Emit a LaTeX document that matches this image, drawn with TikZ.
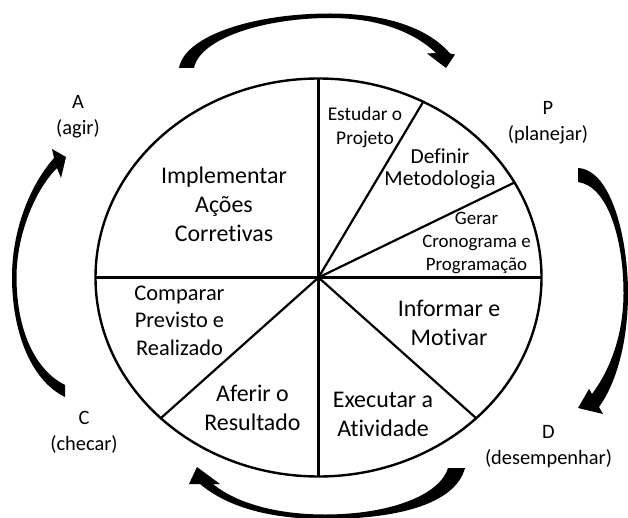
\documentclass[tikz,border=0pt]{standalone}
\usepackage{fontspec}
\setmainfont{Carlito}[Ligatures=NoCommon]
\begin{document}
\begin{tikzpicture}[x=1bp,y=-1bp,
  rim/.style={line width=2.4bp, line cap=round},
  spoke/.style={line width=2.2bp},
  lblbig/.style={font=\fontsize{24}{29}\selectfont, align=center, inner sep=0pt},
  lblmid/.style={font=\fontsize{22.5}{27.5}\selectfont, align=center, inner sep=0pt},
  lblsub/.style={font=\fontsize{21.5}{22}\selectfont, align=center, inner sep=0pt},
  lblsmall/.style={font=\fontsize{19.5}{24}\selectfont, align=center, inner sep=0pt},
  lbltiny/.style={font=\fontsize{19}{23}\selectfont, align=center, inner sep=0pt},
  phase/.style={font=\fontsize{20.5}{26}\selectfont, align=center, inner sep=0pt},
  cyc/.style={fill=black}]
\useasboundingbox (0,0) rectangle (628,518);

% wheel
\coordinate (o) at (318.5,277.5);
\draw[rim] (o) ellipse [x radius=223, y radius=199];
\coordinate (r90)  at (318.5,78.5);
\coordinate (r62)  at (423.2,101.8);
\coordinate (r28)  at (514.5,182.5);
\coordinate (r0)   at (541.5,277.5);
\coordinate (rm45) at (476.2,418.2);
\coordinate (rm90) at (318.5,476.5);
\coordinate (r225) at (160.8,418.2);
\coordinate (r180) at (95.5,277.5);
\foreach \p in {r90,r62,r28,r0,rm45,rm90,r225,r180}
  \draw[spoke] (o) -- (\p);

% sector texts
\node[lblbig]   (impl) at (224,204) {Implementar\\Ações\\Corretivas};
\node[lblsmall] (estu) at (365,127.5) {Estudar o\\Projeto};
\node[lblsub]   (defi) at (440,169) {Definir\\Metodologia};
\node[lbltiny]  (gera) at (476.5,243) {Gerar\\Cronograma e\\Programação};
\node[lblbig]   (info) at (449,322.5) {Informar e\\Motivar};
\node[lblbig]   (exec) at (383,414) {Executar a\\Atividade};
\node[lblbig]   (afer) at (252.5,408) {Aferir o\\Resultado};
\node[lblmid]   (comp) at (179.5,320.5) {Comparar\\Previsto e\\Realizado};

% phase labels
\node[phase] (pA) at (78,117) {A\\(agir)};
\node[phase] (pP) at (548,123) {P\\(planejar)};
\node[phase] (pC) at (84,432) {C\\(checar)};
\node[phase] (pD) at (548.5,447) {D\\(desempenhar)};

% cycle arrows
% A -> P (top)
\fill[cyc] (179,68) .. controls (185,35) and (255,13.5) .. (330,13.5)
  .. controls (390,13.5) and (430,30) .. (450,53.5)
  -- (455,54.5) -- (446,68) -- (427,53.5) -- (436,53)
  .. controls (415,33) and (380,18) .. (330,18)
  .. controls (265,18) and (200,38) .. (194,68) -- cycle;
% P -> D (right)
\fill[cyc] (578,168) .. controls (612,170) and (628,240) .. (628,293)
  .. controls (628,345) and (615,385) .. (599,407)
  -- (603,414) -- (578,408) -- (589,389) -- (592,394)
  .. controls (610,370) and (623.5,335) .. (623.5,293)
  .. controls (623.5,240) and (608,186) .. (578,182) -- cycle;
% D -> C (bottom)
\fill[cyc] (465,468) .. controls (455,505) and (395,519) .. (325,519)
  .. controls (265,519) and (225,505) .. (200,484)
  -- (189,484) -- (197,467) -- (220,484) -- (213,484)
  .. controls (232,500) and (270,514.5) .. (325,514.5)
  .. controls (390,514.5) and (440,495) .. (448,468) -- cycle;
% C -> A (left)
\fill[cyc] (65,397) .. controls (30,380) and (12,330) .. (12,277)
  .. controls (12,230) and (30,185) .. (54,158)
  -- (52,149) -- (66,157) -- (61,178) -- (57,168)
  .. controls (35,190) and (16.5,235) .. (16.5,277)
  .. controls (16.5,330) and (35,370) .. (65,385) -- cycle;
\end{tikzpicture}
\end{document}
